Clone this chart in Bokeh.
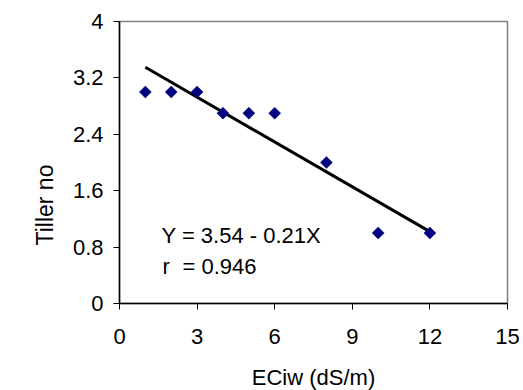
import math
from bokeh.plotting import figure
from bokeh.models import Range1d, FixedTicker, Label
from bokeh.embed import file_html
from bokeh.resources import INLINE

# Data
ec = [1, 2, 3, 4, 5, 6, 8, 10, 12]
tiller = [3.0, 3.0, 3.0, 2.7, 2.7, 2.7, 2.0, 1.0, 1.0]
trend_x = [1, 12]
trend_y = [3.35, 1.02]
x_ticks = [0, 3, 6, 9, 12, 15]
y_ticks = [0, 0.8, 1.6, 2.4, 3.2, 4]
y_tick_labels = ["0", "0.8", "1.6", "2.4", "3.2", "4"]
equation_text = "Y = 3.54 - 0.21X"
r_symbol = "r"
r_value_text = "= 0.946"
x_title = "ECiw (dS/m)"
y_title = "Tiller no"

FONT = "Liberation Sans"
FS = "22px"

p = figure(width=523, height=390, output_backend="svg", toolbar_location=None,
           x_range=Range1d(0, 15), y_range=Range1d(0, 4),
           min_border_left=119, min_border_right=16, min_border_top=21, min_border_bottom=87,
           title=y_title, title_location="left")
p.frame_width = 388
p.frame_height = 282

p.title.text_font = FONT
p.title.text_font_size = "23px"
p.title.text_font_style = "normal"
p.title.text_color = "black"
p.title.align = "left"
p.title.offset = 58
p.title.standoff = 24

p.xgrid.visible = False
p.ygrid.visible = False
p.outline_line_color = "#808080"
p.outline_line_width = 1.5
p.background_fill_color = "white"
p.border_fill_color = "white"

for ax in (p.xaxis[0], p.yaxis[0]):
    ax.axis_line_color = "black"
    ax.axis_line_width = 1.5
    ax.major_tick_line_color = "black"
    ax.major_tick_line_width = 1
    ax.major_tick_in = 0
    ax.major_tick_out = 6
    ax.minor_tick_line_color = None
    ax.major_label_text_font = FONT
    ax.major_label_text_font_size = FS
    ax.major_label_text_color = "black"

p.xaxis[0].ticker = FixedTicker(ticks=x_ticks)
p.yaxis[0].ticker = FixedTicker(ticks=y_ticks)
p.yaxis[0].major_label_overrides = dict(zip(y_ticks, y_tick_labels))
p.xaxis[0].major_label_standoff = 19
p.yaxis[0].major_label_standoff = 10

p.xaxis[0].axis_label = x_title
p.xaxis[0].axis_label_text_font = FONT
p.xaxis[0].axis_label_text_font_size = FS
p.xaxis[0].axis_label_text_font_style = "normal"
p.xaxis[0].axis_label_text_color = "black"
p.xaxis[0].axis_label_standoff = 18

# trend line and points
p.line(trend_x, trend_y, line_color="black", line_width=3)
p.scatter(ec, tiller, marker="square", size=8.5, angle=math.pi / 4,
          fill_color="#000080", line_color="#000080", line_width=0.5)

p.add_layout(Label(x=42, y=68, x_units="screen", y_units="screen", text=equation_text,
                   text_align="left", text_baseline="alphabetic",
                   text_font=FONT, text_font_size=FS, text_color="black"))
p.add_layout(Label(x=43, y=37, x_units="screen", y_units="screen", text=r_symbol,
                   text_align="left", text_baseline="alphabetic",
                   text_font=FONT, text_font_size=FS, text_color="black"))
p.add_layout(Label(x=63, y=37, x_units="screen", y_units="screen", text=r_value_text,
                   text_align="left", text_baseline="alphabetic",
                   text_font=FONT, text_font_size=FS, text_color="black"))

open("out.html", "w").write(file_html(p, INLINE))
